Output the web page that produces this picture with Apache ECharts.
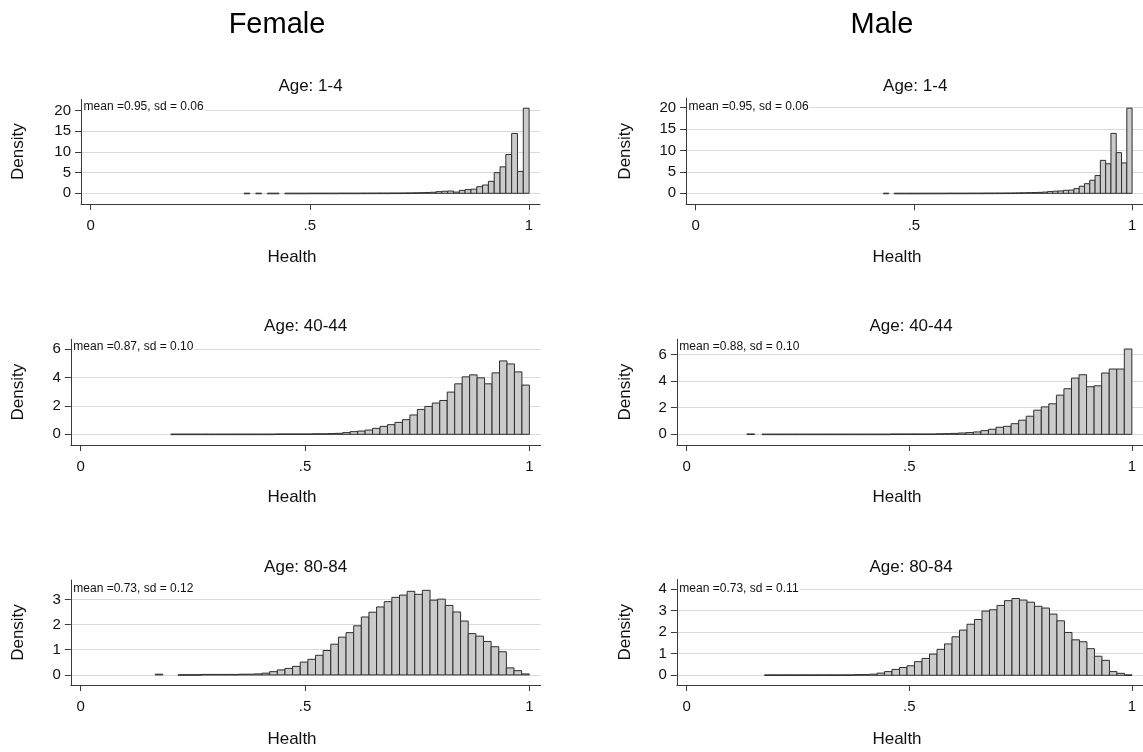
<!DOCTYPE html>
<html><head><meta charset="utf-8">
<script src="https://cdn.jsdelivr.net/npm/echarts@6/dist/echarts.min.js"></script>
<style>html,body{margin:0;padding:0;background:#fff}#c{width:1143px;height:752px}</style>
</head><body><div id="c"></div>
<script>
// ---------- DATA ----------
const columnTitles = ['Female', 'Male'];
const ageGroups = ['Age: 1-4', 'Age: 40-44', 'Age: 80-84'];
const xTickValues = [0, 0.5, 1];
const xAxisTitle = 'Health';
const yAxisTitle = 'Density';

// histogram densities, one value per bin (bins: start + i*width)
const femaleAge1_4 = [0.03,0,0.03,0,0.03,0.03,0,
  0.03,0.03,0.03,0.03,0.04,0.04,0.04,0.04,0.04,0.05,0.05,0.05,0.05,0.06,0.06,0.06,0.07,0.07,0.08,0.08,0.09,0.1,0.12,
  0.15,0.2,0.25,0.4,0.5,0.55,0.3,0.7,0.9,1.0,1.6,2.0,2.9,5.0,6.4,9.4,14.5,5.3,20.6];
const femaleAge1_4Bins = {start: 0.350, width: 0.01327};
const maleAge1_4 = [0.03,0,
  0.02,0.02,0.02,0.02,0.02,0.03,0.03,0.03,0.03,0.03,0.04,0.04,0.04,0.04,0.05,0.05,0.05,0.06,0.06,0.07,0.07,0.08,
  0.09,0.1,0.12,0.15,0.18,0.22,0.28,0.4,0.5,0.55,0.7,0.75,1.1,1.65,2.25,3.05,4.15,7.7,6.9,14.0,9.5,7.1,19.9];
const maleAge1_4Bins = {start: 0.4304, width: 0.01212};
const femaleAge40_44 = [0.02,0.02,0.02,0.02,0.02,0.02,0.02,0.02,0.02,0.02,0.02,0.02,0.02,0.02,0.03,0.03,0.03,0.03,0.03,0.04,0.04,0.05,
  0.07,0.12,0.19,0.23,0.3,0.42,0.56,0.68,0.84,1.03,1.36,1.75,1.96,2.2,2.38,2.97,3.55,4.04,4.18,3.97,3.55,4.32,5.16,4.95,4.39,3.46];
const femaleAge40_44Bins = {start: 0.201, width: 0.01665};
const maleAge40_44 = [0.03,0,
  0.02,0.02,0.02,0.02,0.02,0.02,0.02,0.02,0.02,0.02,0.02,0.02,0.02,0.02,0.02,
  0.02,0.02,0.03,0.03,0.03,0.03,0.03,0.03,
  0.04,0.05,0.07,0.1,0.13,0.18,0.28,0.38,0.53,0.6,0.8,1.06,1.36,1.81,2.06,2.29,2.94,3.42,4.22,4.47,3.57,3.64,4.6,4.9,4.9,6.4];
const maleAge40_44Bins = {start: 0.1355, width: 0.01695};
const femaleAge80_84 = [0.03,0,0,
  0.01,0.01,0.01,0.02,0.02,0.02,0.02,0.02,0.03,0.03,0.04,0.07,
  0.13,0.2,0.26,0.34,0.51,0.62,0.78,0.97,1.22,1.5,1.68,1.95,2.3,2.49,2.7,2.91,3.08,3.17,3.32,3.2,3.36,2.97,3.01,2.76,2.5,2.14,1.64,1.54,1.33,1.12,0.92,0.28,0.17,0.04];
const femaleAge80_84Bins = {start: 0.166, width: 0.01702};
const maleAge80_84 = [0.02,0.02,0.02,0.02,0.02,0.02,0.02,0.02,0.02,0.02,0.02,0.02,0.03,0.03,
  0.05,0.1,0.17,0.27,0.36,0.44,0.63,0.78,0.98,1.2,1.45,1.78,2.09,2.36,2.58,2.97,3.03,3.23,3.45,3.55,3.48,3.38,3.19,3.11,2.83,2.52,1.98,1.64,1.55,1.23,0.88,0.69,0.17,0.09,0.02];
const maleAge80_84Bins = {start: 0.175, width: 0.01684};

const statsLabels = ['mean =0.95, sd = 0.06','mean =0.95, sd = 0.06',
  'mean =0.87, sd = 0.10','mean =0.88, sd = 0.10',
  'mean =0.73, sd = 0.12','mean =0.73, sd = 0.11'];
const yTicks1_4 = [0, 5, 10, 15, 20];
const yTicks40_44 = [0, 2, 4, 6];
const yTicks80_84F = [0, 1, 2, 3];
const yTicks80_84M = [0, 1, 2, 3, 4];

// ---------- LAYOUT ----------
const FONT = '"Liberation Sans", Arial, sans-serif';
const X_MIN = -0.022, X_MAX = 1.025;
const panels = [
  {values: femaleAge1_4, bins: femaleAge1_4Bins, ticks: yTicks1_4, yMin: -2.59, yMax: 22.76, px0: 90.7, scale: 438.3, top: 99.3, bottom: 204, col: 0, row: 0},
  {values: maleAge1_4, bins: maleAge1_4Bins, ticks: yTicks1_4, yMin: -2.57, yMax: 22.2, px0: 695.7, scale: 437.7, top: 98.3, bottom: 204.3, col: 1, row: 0},
  {values: femaleAge40_44, bins: femaleAge40_44Bins, ticks: yTicks40_44, yMin: -0.75, yMax: 6.68, px0: 80.7, scale: 448.6, top: 339.3, bottom: 445, col: 0, row: 1},
  {values: maleAge40_44, bins: maleAge40_44Bins, ticks: yTicks40_44, yMin: -0.80, yMax: 7.13, px0: 686.7, scale: 447.3, top: 339.3, bottom: 445, col: 1, row: 1},
  {values: femaleAge80_84, bins: femaleAge80_84Bins, ticks: yTicks80_84F, yMin: -0.40, yMax: 3.77, px0: 80.7, scale: 448.6, top: 580, bottom: 685, col: 0, row: 2},
  {values: maleAge80_84, bins: maleAge80_84Bins, ticks: yTicks80_84M, yMin: -0.45, yMax: 4.43, px0: 686.7, scale: 447.3, top: 579.5, bottom: 685, col: 1, row: 2}
];
const colTitleX = [277, 882];
const healthX = [292, 897];
const densityX = [18, 625];
const rowTitleY = [86, 326, 567];
const statsY = [107, 347, 589];
const healthY = [257, 497, 739];

const grids = [], xAxes = [], yAxes = [], series = [], graphics = [];

function renderItem(params, api) {
  const x0 = api.value(0), x1 = api.value(1), y = api.value(2);
  const p0 = api.coord([x0, y]);
  const p1 = api.coord([x1, 0]);
  return {
    type: 'rect',
    shape: {x: p0[0], y: p0[1], width: p1[0] - p0[0], height: Math.max(p1[1] - p0[1], 0.6)},
    style: {fill: '#cbcbcb', stroke: '#2e2e2e', lineWidth: 1}
  };
}

panels.forEach((p, i) => {
  const left = p.px0 + X_MIN * p.scale;
  const width = (X_MAX - X_MIN) * p.scale;
  grids.push({left: left, top: p.top, width: width, height: p.bottom - p.top, containLabel: false});
  xAxes.push({
    type: 'value', gridIndex: i, min: X_MIN, max: X_MAX,
    axisLine: {show: true, onZero: false, lineStyle: {color: '#3a3a3a', width: 1}},
    axisTick: {show: true, length: 6, customValues: xTickValues, lineStyle: {color: '#3a3a3a'}},
    axisLabel: {customValues: xTickValues, margin: 14, fontFamily: FONT, fontSize: 15, color: '#111',
      formatter: v => (v === 0.5 ? '.5' : String(v))},
    splitLine: {show: false}
  });
  yAxes.push({
    type: 'value', gridIndex: i, min: p.yMin, max: p.yMax,
    axisLine: {show: true, onZero: false, lineStyle: {color: '#3a3a3a', width: 1}},
    axisTick: {show: true, length: 6, customValues: p.ticks, lineStyle: {color: '#3a3a3a'}},
    axisLabel: {customValues: p.ticks, margin: 10, fontFamily: FONT, fontSize: 15, color: '#111'},
    splitLine: {show: true, lineStyle: {color: '#dadada', width: 1}}
  });
  const data = [];
  p.values.forEach((v, k) => {
    if (v > 0) data.push([p.bins.start + k * p.bins.width, p.bins.start + (k + 1) * p.bins.width, v]);
  });
  series.push({
    type: 'custom', xAxisIndex: i, yAxisIndex: i, renderItem: renderItem,
    encode: {x: [0, 1], y: 2}, data: data, clip: true, silent: true
  });
  // panel title
  graphics.push({type: 'text', x: left + width / 2, y: rowTitleY[p.row],
    style: {text: ageGroups[p.row], fontFamily: FONT, fontSize: 17, fill: '#111', align: 'center', verticalAlign: 'middle'}});
  // stats annotation (white box masks the grid line behind it)
  graphics.push({type: 'text', x: left + 1.5, y: statsY[p.row], z: 100,
    style: {text: statsLabels[i], fontFamily: FONT, fontSize: 12, fill: '#111', align: 'left', verticalAlign: 'middle',
      backgroundColor: '#fff', padding: [1, 1, 1, 1]}});
  // axis titles
  graphics.push({type: 'text', x: healthX[p.col], y: healthY[p.row],
    style: {text: xAxisTitle, fontFamily: FONT, fontSize: 17, fill: '#111', align: 'center', verticalAlign: 'middle'}});
  graphics.push({type: 'text', x: densityX[p.col], y: (p.top + p.bottom) / 2, rotation: Math.PI / 2,
    style: {text: yAxisTitle, fontFamily: FONT, fontSize: 17, fill: '#111', align: 'center', verticalAlign: 'middle'}});
});
columnTitles.forEach((t, c) => {
  graphics.push({type: 'text', x: colTitleX[c], y: 25,
    style: {text: t, fontFamily: FONT, fontSize: 29, fill: '#000', align: 'center', verticalAlign: 'middle'}});
});

const chart = echarts.init(document.getElementById('c'), null, {renderer: 'canvas'});
chart.setOption({
  animation: false,
  backgroundColor: '#fff',
  grid: grids, xAxis: xAxes, yAxis: yAxes, series: series,
  graphic: {elements: graphics}
});
</script></body></html>
